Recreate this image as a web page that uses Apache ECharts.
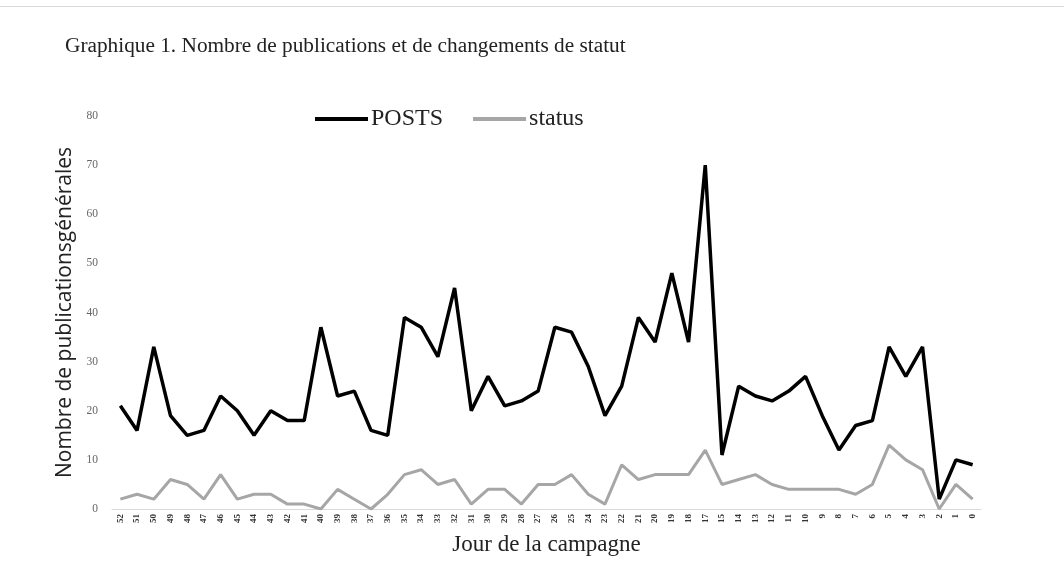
<!DOCTYPE html>
<html>
<head>
<meta charset="utf-8">
<script src="https://cdn.jsdelivr.net/npm/echarts@6/dist/echarts.min.js"></script>
<style>
html,body{margin:0;padding:0;background:#fff;}
#chart{width:1064px;height:562px;}
</style>
</head>
<body>
<div id="chart"></div>
<script>
var days = ['52','51','50','49','48','47','46','45','44','43','42','41','40','39','38','37','36','35','34','33','32','31','30','29','28','27','26','25','24','23','22','21','20','19','18','17','15','14','13','12','11','10','9','8','7','6','5','4','3','2','1','0'];
var postsVals = [21,16,33,19,15,16,23,20,15,20,18,18,37,23,24,16,15,39,37,31,45,20,27,21,22,24,37,36,29,19,25,39,34,48,34,70,11,25,23,22,24,27,19,12,17,18,33,27,33,2,10,9];
var statusVals = [2,3,2,6,5,2,7,2,3,3,1,1,0,4,2,0,3,7,8,5,6,1,4,4,1,5,5,7,3,1,9,6,7,7,7,12,5,6,7,5,4,4,4,4,3,5,13,10,8,0,5,2];
var yTicks = [0,10,20,30,40,50,60,70,80];

var chart = echarts.init(document.getElementById('chart'));
chart.setOption({
  backgroundColor: '#ffffff',
  animation: false,
  title: {
    text: 'Graphique 1. Nombre de publications et de changements de statut',
    left: 60, top: 31,
    textStyle: {fontFamily: 'Liberation Serif', fontSize: 21.3, fontWeight: 'normal', color: '#222'}
  },
  graphic: [{
    type: 'line', shape: {x1: 0, y1: 6.5, x2: 1064, y2: 6.5},
    style: {stroke: '#d9d9d9', lineWidth: 1}
  }],
  legend: {
    top: 107, left: 315, padding: 0,
    icon: 'rect',
    itemWidth: 53, itemHeight: 4, itemGap: 30,
    textStyle: {fontFamily: 'Liberation Serif', fontSize: 24, color: '#222', padding: [0, 0, 0, -2]},
    data: [
      {name: 'POSTS', itemStyle: {color: '#000'}},
      {name: 'status', itemStyle: {color: '#a6a6a6'}}
    ]
  },
  grid: {left: 112, right: 83, top: 116, bottom: 53, containLabel: false},
  xAxis: {
    type: 'category',
    data: days,
    boundaryGap: true,
    name: 'Jour de la campagne',
    nameLocation: 'middle',
    nameGap: 24,
    nameTextStyle: {fontFamily: 'Liberation Serif', fontSize: 23, color: '#222'},
    axisLine: {lineStyle: {color: '#d9d9d9', width: 1}},
    axisTick: {show: false},
    axisLabel: {interval: 0, rotate: 90, fontFamily: 'Liberation Serif', fontSize: 9, fontWeight: 'bold', color: '#333', margin: 5}
  },
  yAxis: {
    type: 'value',
    min: 0, max: 80, interval: 10,
    name: 'Nombre de publicationsgénérales',
    nameLocation: 'middle',
    nameGap: 35,
    nameTextStyle: {fontFamily: 'Open Sans', fontSize: 21, color: '#222'},
    splitLine: {show: false},
    axisLine: {show: false},
    axisTick: {show: false},
    axisLabel: {
      fontFamily: 'Liberation Serif', fontSize: 11.5, color: '#666', margin: 14,
      formatter: function (v) { return yTicks.indexOf(v) >= 0 ? String(v) : ''; }
    }
  },
  series: [
    {name: 'POSTS', type: 'line', data: postsVals, symbol: 'none', lineStyle: {color: '#000', width: 3.5}, itemStyle: {color: '#000'}, z: 3},
    {name: 'status', type: 'line', data: statusVals, symbol: 'none', lineStyle: {color: '#a6a6a6', width: 3}, itemStyle: {color: '#a6a6a6'}, z: 2}
  ]
});
</script>
</body>
</html>
